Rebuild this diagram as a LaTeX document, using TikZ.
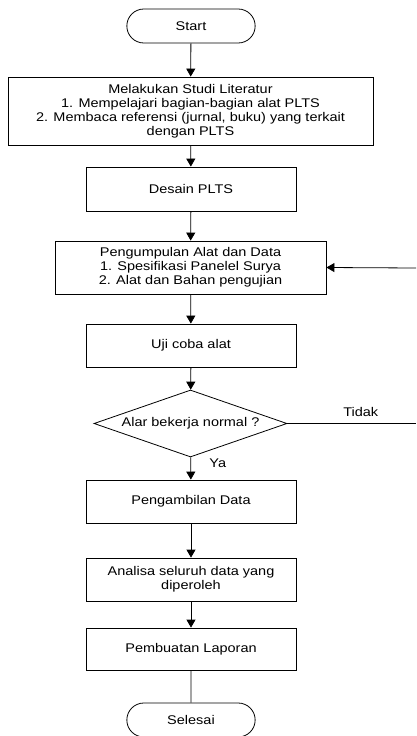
\documentclass[tikz,border=0pt]{standalone}
\usepackage{fontspec}
\setmainfont{Liberation Sans}[FakeStretch=1.15]
\usetikzlibrary{shapes.geometric,shapes.misc,arrows.meta}

\tikzset{
	panah/.style={line width=0.8pt,-{Triangle[length=8pt,width=9pt]}},
	garis/.style={line width=0.8pt},
	prosesbox/.style={draw,line width=0.8pt,rectangle,align=center,inner sep=0pt},
	terminal/.style={draw,line width=0.8pt,rounded rectangle,minimum width=135pt,minimum height=34pt},
	keputusan/.style={draw,line width=0.8pt,diamond,aspect=2.9,inner sep=0pt,minimum width=193pt,minimum height=67pt}
}

\begin{document}
\begin{tikzpicture}[x=1pt,y=-1pt,font=\fontsize{12.6}{14}\selectfont]
	\useasboundingbox (0,0) rectangle (416,736);
	% langkah-langkah
	\node[terminal] (start) at (191,26) {Start};
	\node[prosesbox,minimum width=365pt,minimum height=68pt] (studi) at (190.5,111) {Melakukan Studi Literatur\\1. Mempelajari bagian-bagian alat PLTS\\2. Membaca referensi (jurnal, buku) yang terkait\\dengan PLTS};
	\node[prosesbox,minimum width=210pt,minimum height=44pt] (desain) at (191,189) {Desain PLTS};
	\node[prosesbox,minimum width=271pt,minimum height=53pt] (kumpul) at (190.5,267.5) {Pengumpulan Alat dan Data\\1. Spesifikasi Panelel Surya\\2. Alat dan Bahan pengujian};
	\node[prosesbox,minimum width=210pt,minimum height=43pt] (uji) at (191,345.5) {Uji coba alat};
	\node[keputusan] (cek) at (190.5,423.5) {Alar bekerja normal ?};
	\node[prosesbox,minimum width=210pt,minimum height=43pt] (ambil) at (191,501.5) {Pengambilan Data};
	\node[prosesbox,minimum width=210pt,minimum height=43pt] (analisa) at (191,579.5) {Analisa seluruh data yang\\diperoleh};
	\node[prosesbox,minimum width=210pt,minimum height=42pt] (lapor) at (191,649) {Pembuatan Laporan};
	\node[terminal] (selesai) at (191,720) {Selesai};
	\coordinate (tidak) at (416,423.5);
	\coordinate (kembali) at (416,268);
	% alur
	\draw[panah] (start) -- (studi);
	\draw[panah] (studi) -- (desain);
	\draw[panah] (desain) -- (kumpul);
	\draw[panah] (kumpul) -- (uji);
	\draw[panah] (uji) -- (cek);
	\draw[panah] (cek) -- node[pos=0.26,right=15pt] {Ya} (ambil);
	\draw[panah] (ambil) -- (analisa);
	\draw[panah] (analisa) -- (lapor);
	\draw[garis] (lapor) -- (selesai);
	\draw[garis] (cek.east) -- node[pos=0.57,above=3pt] {Tidak} (tidak);
	\draw[panah] (kembali) -- (kumpul.east);
\end{tikzpicture}
\end{document}
